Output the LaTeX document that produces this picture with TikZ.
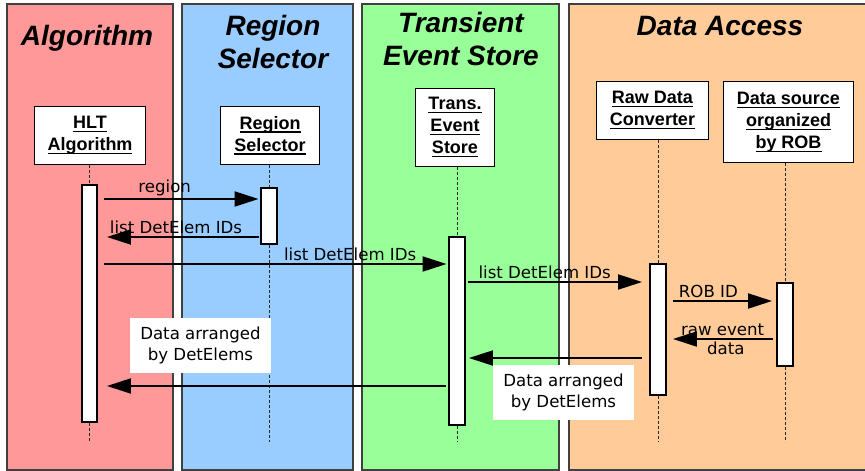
\documentclass[tikz,border=0pt]{standalone}
\usepackage{fontspec}
\usetikzlibrary{arrows.meta}

\newfontfamily\titlefont{Liberation Sans}
\newfontfamily\msgfont{DejaVu Sans}

\definecolor{algred}{HTML}{FF9999}
\definecolor{selblue}{HTML}{99CCFF}
\definecolor{tesgreen}{HTML}{99FF99}
\definecolor{accorange}{HTML}{FFCC99}

% thick underline for the header boxes
\newcommand{\hdul}[1]{\leavevmode\setbox0\hbox{#1}\rlap{\vrule height -2.2pt depth 3.6pt width \wd0}\box0}

\begin{document}
\begin{tikzpicture}[x=1pt, y=-1pt,
    lane/.style={draw=black!75, line width=1.3pt},
    title/.style={font=\titlefont\bfseries\itshape\fontsize{28}{33}\selectfont, align=center, inner sep=0pt},
    actor/.style={draw, line width=1.3pt, fill=white, align=center, inner sep=0pt,
        font=\titlefont\bfseries\fontsize{18}{22}\selectfont},
    bar/.style={draw, line width=2.4pt, fill=white, minimum width=15.5pt, inner sep=0pt},
    life/.style={line width=0.9pt, black!85, dash pattern=on 3pt off 2pt},
    msg/.style={-{Triangle[length=24pt, width=15pt]}, line width=2pt},
    txt/.style={font=\msgfont\fontsize{16.6}{21}\selectfont, inner sep=2pt},
    note/.style={font=\msgfont\fontsize{16.6}{21}\selectfont, fill=white, align=center,
        inner xsep=10pt, inner ysep=9pt}]

    \useasboundingbox (0,0) rectangle (865,471);

    % Swim lanes
    \draw[lane, fill=algred] (7,4) rectangle (173,470);
    \draw[lane, fill=selblue] (182,4) rectangle (353,470);
    \draw[lane, fill=tesgreen] (362,4) rectangle (559,470);
    \draw[lane, fill=accorange] (569,4) rectangle (875,470);

    % Lane titles (base = last line)
    \node[title, anchor=base] (ttlalg) at (87,45) {Algorithm};
    \node[title, anchor=base] (ttlsel) at (273,68) {Region\\Selector};
    \node[title, anchor=base] (ttltes) at (461,65) {Transient\\Event Store};
    \node[title, anchor=base] (ttlacc) at (720,35) {Data Access};

    % Objects
    \node[actor, minimum width=111pt, minimum height=58pt] (hlt) at (90,135.5) {\hdul{HLT}\\\hdul{Algorithm}};
    \node[actor, minimum width=99pt, minimum height=58pt] (rsel) at (270,135.5) {\hdul{Region}\\\hdul{Selector}};
    \node[actor, minimum width=79pt, minimum height=78pt] (tes) at (455,127.5) {\hdul{Trans.}\\\hdul{Event}\\\hdul{Store}};
    \node[actor, minimum width=112pt, minimum height=58pt] (rdc) at (652.5,110.5) {\hdul{Raw Data}\\\hdul{Converter}};
    \node[actor, minimum width=130pt, minimum height=81pt] (dsrc) at (788.5,122) {\hdul{Data source}\\\hdul{organized}\\\hdul{by ROB}};

    % Activation bars
    \node[bar, minimum height=236.6pt] (algbar) at (89.5,303.5) {};
    \node[bar, minimum height=55.6pt] (rsbar) at (269,216) {};
    \node[bar, minimum height=187.6pt] (tesbar) at (457,331) {};
    \node[bar, minimum height=130.6pt] (rdcbar) at (658,329.5) {};
    \node[bar, minimum height=82.6pt] (dsbar) at (785,324.5) {};

    % Lifelines
    \coordinate (bottom) at (0,442);
    \draw[life] (algbar.north |- hlt.south) -- (algbar.north);
    \draw[life] (rsbar.north |- rsel.south) -- (rsbar.north);
    \draw[life] (tesbar.north |- tes.south) -- (tesbar.north);
    \draw[life] (rdcbar.north |- rdc.south) -- (rdcbar.north);
    \draw[life] (dsbar.north |- dsrc.south) -- (dsbar.north);
    \draw[life] (algbar.south) -- (algbar.south |- bottom);
    \draw[life] (rsbar.south) -- (rsbar.south |- bottom);
    \draw[life] (tesbar.south) -- (tesbar.south |- bottom);
    \draw[life] (rdcbar.south) -- (rdcbar.south |- bottom);
    \draw[life] (dsbar.south) -- (dsbar.south |- bottom);

    % Message levels
    \coordinate (m1) at (0,199);
    \coordinate (m2) at (0,237);
    \coordinate (m3) at (0,264);
    \coordinate (m4) at (0,282);
    \coordinate (m5) at (0,301);
    \coordinate (m6) at (0,339);
    \coordinate (m7) at (0,358);
    \coordinate (m8) at (0,386);

    % Notes
    \node[note, anchor=south] (notealg) at (200.5,373) {Data arranged\\by DetElems};
    \node[note, anchor=north] (notetes) at (563.5,365) {Data arranged\\by DetElems};

    % Messages
    \draw[msg, shorten <=5.5pt, shorten >=1.5pt] (algbar.east |- m1) -- (rsbar.west |- m1)
        node[txt, above, pos=0.41] {region};
    \draw[msg, shorten <=1.5pt, shorten >=8.5pt] (rsbar.west |- m2) -- (algbar.east |- m2)
        node[txt, above, pos=0.52] {list DetElem IDs};
    \draw[msg, shorten <=5.5pt, shorten >=1.5pt] (algbar.east |- m3) -- (tesbar.west |- m3)
        node[txt, above, pos=0.72] {list DetElem IDs};
    \draw[msg, shorten <=2pt, shorten >=7pt] (tesbar.east |- m4) -- (rdcbar.west |- m4)
        node[txt, above, pos=0.43] {list DetElem IDs};
    \draw[msg, shorten <=6pt, shorten >=4pt] (rdcbar.east |- m5) -- (dsbar.west |- m5)
        node[txt, above, pos=0.38] {ROB ID};
    \draw[msg, shorten <=3pt, shorten >=6pt] (dsbar.west |- m6) -- (rdcbar.east |- m6)
        node[txt, above, pos=0.49] {raw event}
        node[txt, below, pos=0.46] {data};
    \draw[msg, shorten <=7pt, shorten >=3pt] (rdcbar.west |- m7) -- (tesbar.east |- m7);
    \draw[msg, shorten <=2pt, shorten >=8.5pt] (tesbar.west |- m8) -- (algbar.east |- m8);

\end{tikzpicture}
\end{document}
